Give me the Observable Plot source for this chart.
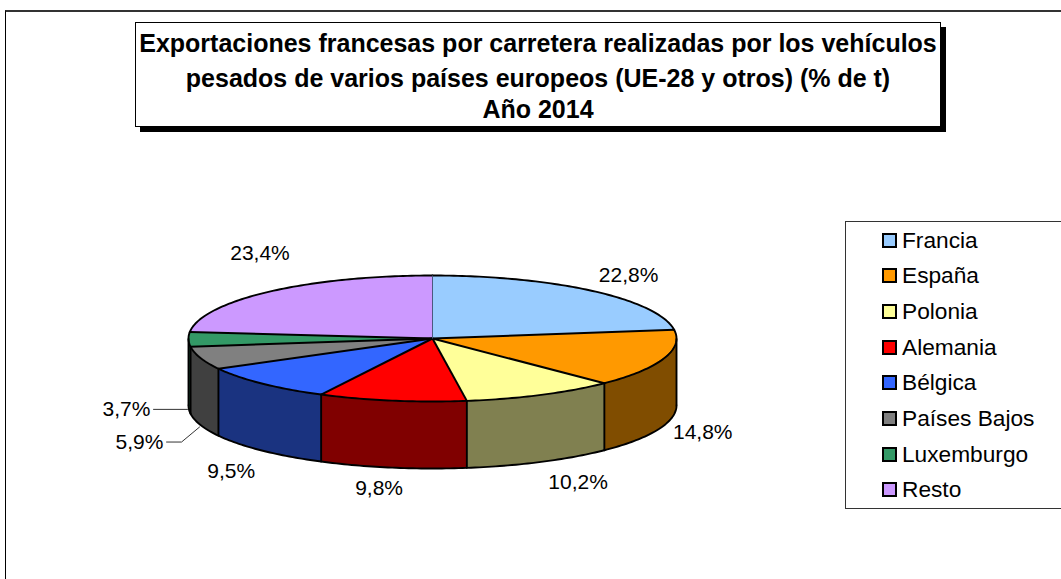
<!DOCTYPE html>
<html lang="es">
<head>
<meta charset="utf-8">
<script src="https://cdn.jsdelivr.net/npm/d3@7"></script>
<script src="https://cdn.jsdelivr.net/npm/@observablehq/plot@0.6"></script>
<style>
html,body{margin:0;padding:0;background:#fff;width:1061px;height:579px;overflow:hidden;font-family:"Liberation Sans",Arial,sans-serif;}
#stage{position:relative;width:1061px;height:579px;overflow:hidden;}
#frame{position:absolute;left:5px;top:10px;width:1100px;height:600px;border-top:2px solid #333;border-left:1px solid #000;}
#chart{position:absolute;left:0;top:0;}
#title{position:absolute;left:135px;top:22px;width:804px;height:103px;border:1px solid #000;box-shadow:5px 5px 0 #000;background:#fff;text-align:center;font-weight:bold;font-size:25px;color:#000;}
#title div{position:absolute;left:0;right:0;white-space:nowrap;transform:translateY(-50%);}
#legend{position:absolute;left:845px;top:221px;width:240px;height:286px;border:1px solid #333;background:#fff;}
.row{position:absolute;left:36px;height:24px;display:flex;align-items:center;font-size:22.7px;color:#000;white-space:nowrap;transform:translateY(-50%);}
.swatch{width:11px;height:11px;border:2px solid #000;margin-right:5px;flex:none;}
</style>
</head>
<body>
<div id="stage">
  <div id="frame"></div>
  <div id="chart"></div>
  <div id="title"></div>
  <div id="legend"></div>
</div>
<script>
const titleLines = [
  "Exportaciones francesas por carretera realizadas por los vehículos",
  "pesados de varios países europeos (UE-28 y otros) (% de t)",
  "Año 2014"
];
const names = ["Francia","España","Polonia","Alemania","Bélgica","Países Bajos","Luxemburgo","Resto"];
const shares = [22.8,14.8,10.2,9.8,9.5,5.9,3.7,23.4];
const topColors = ["#99CCFF","#FF9900","#FFFF99","#FF0000","#3366FF","#808080","#339966","#CC99FF"];
const sideColors = ["#4D6680","#804D00","#808050","#800000","#1A3380","#404040","#1A4D33","#664D80"];
// label nudges from the slice's outer edge, in pixels
const labelDx = [36,39,37,-13,-31,-61,-62,-9];
const labelDy = [-16,7,20,21,21,17,3,-38];

// pie layout: x and y are in ellipse radii; the wall height is in y radii
const wall = 67 / 63;
const rxPx = 244, ryPx = 63;
const total = d3.sum(shares);
const deg = Math.PI / 180;
let run = 0;
const slices = names.map((name, i) => {
  const a0 = run / total * 360;
  run += shares[i];
  const a1 = run / total * 360;
  return {name, i, a0, a1, mid: (a0 + a1) / 2, top: topColors[i], side: sideColors[i]};
});
const px = a => Math.sin(a * deg);
const py = a => -Math.cos(a * deg);
function arc(a0, a1, lift = 0) {
  const n = Math.max(2, Math.ceil(Math.abs(a1 - a0)));
  return d3.range(n + 1).map(k => {
    const a = a0 + (a1 - a0) * k / n;
    return {x: px(a), y: py(a) + lift};
  });
}
const tops = slices.flatMap(s =>
  [{x: 0, y: 0}, ...arc(s.a0, s.a1), {x: 0, y: 0}].map(p => ({...p, key: s.name, color: s.top})));
const visible = slices
  .map(s => ({...s, b0: Math.max(s.a0, 90), b1: Math.min(s.a1, 270)}))
  .filter(s => s.b1 > s.b0);
const sides = visible.flatMap(s =>
  [...arc(s.b0, s.b1), ...arc(s.b1, s.b0, wall)].map(p => ({...p, key: s.name, color: s.side})));
const rimTop = slices.flatMap(s => arc(s.a0, s.a1).map(p => ({...p, key: s.name})));
const rimBottom = visible.flatMap(s => arc(s.b0, s.b1, wall).map(p => ({...p, key: s.name})));
const edgeAngles = [...new Set([90, 270, ...visible.map(s => s.b0), ...visible.map(s => s.b1)])];
const labelMarks = slices.map(s => {
  const front = s.mid > 90 && s.mid < 270;
  return Plot.text([s], {
    x: px(s.mid), y: py(s.mid) + (front ? wall : 0),
    text: d => `${shares[d.i].toFixed(1).replace(".", ",")}%`,
    dx: labelDx[s.i], dy: labelDy[s.i],
    fontSize: 21, fill: "#000", textAnchor: "middle", lineAnchor: "middle"
  });
});
// leader lines for the two narrow slices, ending next to their labels
function leader(i, points) {
  const s = slices[i];
  const ex = px(s.mid), ey = py(s.mid) + wall;
  return points.map(([ox, oy]) => ({x: ex + ox / rxPx, y: ey + oy / ryPx, key: s.name}));
}
const leaders = [
  ...leader(5, [[-1, 2], [-19, 17], [-34, 17]]),
  ...leader(6, [[-1, 3], [-35, 3]])
];

const plot = Plot.plot({
  width: 1061, height: 579, margin: 0,
  style: {background: "transparent", fontFamily: "'Liberation Sans',Arial,sans-serif"},
  x: {domain: [-1, 1], range: [188, 676], axis: null},
  y: {domain: [-1, 1], range: [275, 401], axis: null},
  color: {type: "identity"},
  marks: [
    Plot.line(sides, {x: "x", y: "y", z: "key", fill: "color", stroke: null, curve: "linear"}),
    Plot.line(tops, {x: "x", y: "y", z: "key", fill: "color", stroke: null, curve: "linear"}),
    Plot.link(edgeAngles, {x1: a => px(a), y1: a => py(a), x2: a => px(a), y2: a => py(a) + wall, stroke: "#000", strokeWidth: 1.9}),
    Plot.line(rimBottom, {x: "x", y: "y", z: "key", stroke: "#000", strokeWidth: 1.9, curve: "linear"}),
    Plot.line(rimTop, {x: "x", y: "y", z: "key", stroke: "#000", strokeWidth: 1.9, curve: "linear"}),
    Plot.link(slices.slice(1), {x1: 0, y1: 0, x2: s => px(s.a0), y2: s => py(s.a0), stroke: "#000", strokeWidth: 2}),
    Plot.link(slices.slice(0, 1), {x1: 0, y1: 0, x2: s => px(s.a0), y2: s => py(s.a0), stroke: "#4a5a80", strokeWidth: 1}),
    Plot.line(leaders, {x: "x", y: "y", z: "key", stroke: "#333", strokeWidth: 1, curve: "linear"}),
    ...labelMarks
  ]
});
document.getElementById("chart").append(plot);

const titleEl = document.getElementById("title");
const titleTops = [20, 55, 86];
titleLines.forEach((t, i) => {
  const d = document.createElement("div");
  d.textContent = t;
  d.style.top = titleTops[i] + "px";
  titleEl.append(d);
});
const legendEl = document.getElementById("legend");
names.forEach((n, i) => {
  const r = document.createElement("div");
  r.className = "row";
  r.style.top = (18 + i * 35.7) + "px";
  const sw = document.createElement("span");
  sw.className = "swatch";
  sw.style.background = topColors[i];
  const label = document.createElement("span");
  label.textContent = n;
  r.append(sw, label);
  legendEl.append(r);
});
</script>
</body>
</html>
